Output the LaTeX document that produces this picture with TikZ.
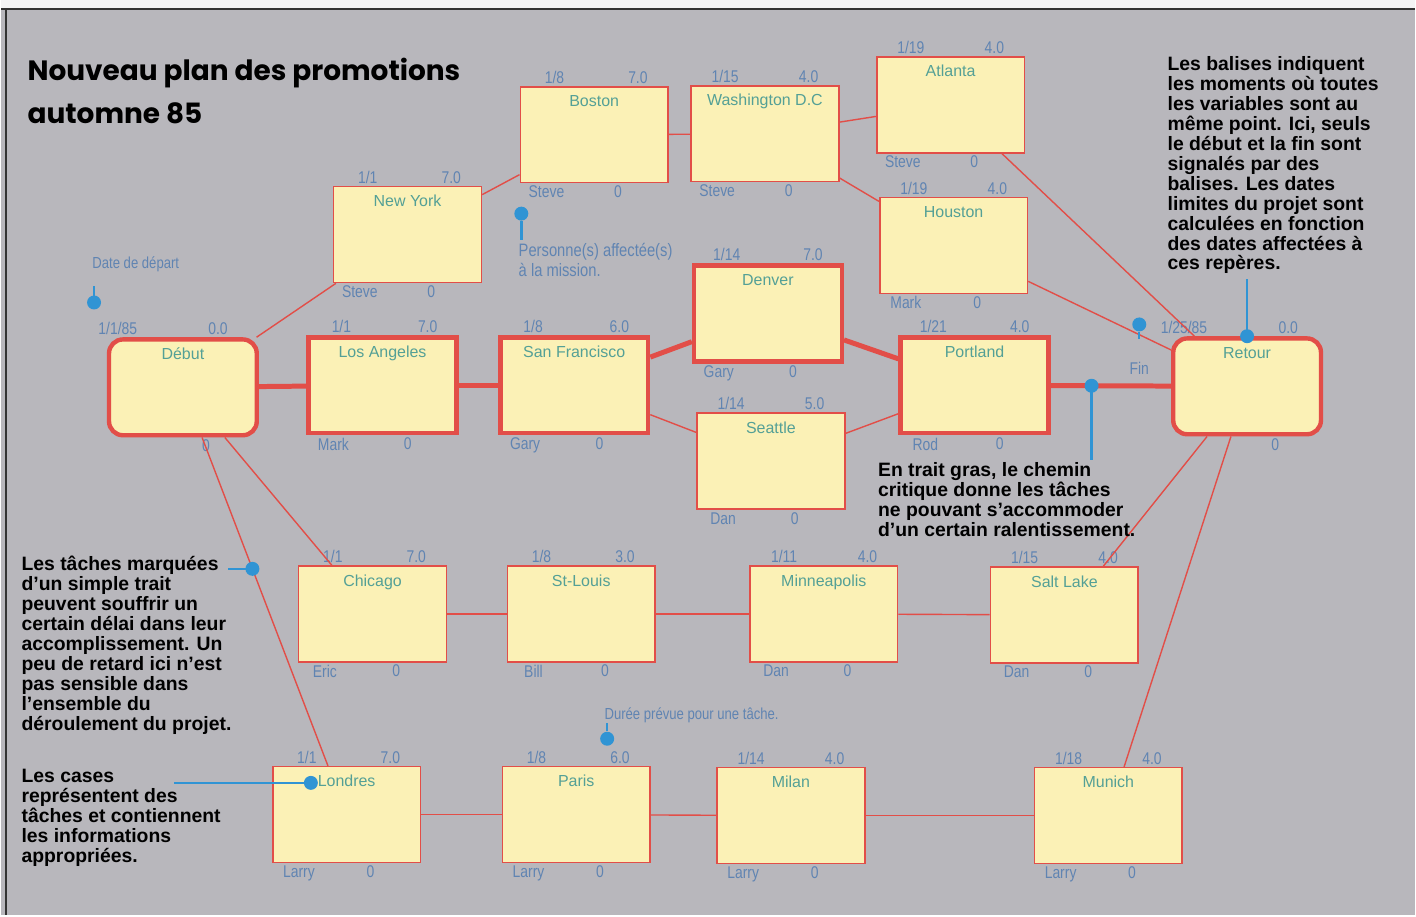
\documentclass[tikz,border=0pt]{standalone}
\usepackage{fontspec}
\setmainfont{Liberation Sans}
\newfontfamily\condfont[FakeStretch=0.82]{Liberation Sans}
\newfontfamily\titlefont{Poppins}
\usetikzlibrary{calc}

\definecolor{bggray}{RGB}{184,183,188}
\definecolor{boxfill}{RGB}{251,241,182}
\definecolor{boxred}{RGB}{226,78,72}
\definecolor{citygreen}{RGB}{84,160,150}
\definecolor{numblue}{RGB}{96,132,178}
\definecolor{pinblue}{RGB}{48,148,212}

\begin{document}
\begin{tikzpicture}[x=0.5pt,y=-0.5pt,
    task/.style={draw=boxred,fill=boxfill,line width=0.8pt,minimum width=74pt,minimum height=48pt,
      inner sep=3pt,text height=7pt,text depth=35pt,font=\fontsize{8}{9}\selectfont,text=citygreen},
    crit/.style={task,line width=2.2pt},
    endpt/.style={crit,rounded corners=7pt},
    num/.style={font=\condfont\fontsize{8.5}{9}\selectfont,text=numblue,inner sep=1pt},
    info/.style n args={4}{label={[num,anchor=south,xshift=17.5pt]north west:#1},
      label={[num,anchor=south,xshift=-15.5pt]north east:#2},
      label={[num,anchor=north,xshift=13.5pt]south west:#3},
      label={[num,anchor=north,xshift=-25.5pt]south east:#4}},
    link/.style={draw=boxred,line width=0.7pt},
    critlink/.style={draw=boxred,line width=2.5pt},
    pinline/.style={draw=pinblue,line width=1.2pt},
    pinhead/.style={circle,fill=pinblue,inner sep=0pt,minimum size=7pt},
    hint/.style={font=\condfont\fontsize{8}{9}\selectfont,text=numblue,inner sep=0pt},
    note/.style={font=\bfseries\fontsize{9.7}{10}\selectfont,align=left,inner sep=0pt,anchor=north west}]

  % page
  \fill[bggray] (0,0) rectangle (1416,917);
  \fill[white!85!bggray] (0,0) rectangle (1416,8);
  \draw[black!80,line width=1.2pt] (0,9) -- (1416,9) (5,9) -- (5,917);

  \node[font=\titlefont\bfseries\fontsize{14}{21.5}\selectfont,align=left,inner sep=0pt,anchor=north west] (title) at (26,58) {Nouveau plan des promotions\\automne 85};

  % start and end
  \node[endpt,label={[num,anchor=south,xshift=5.5pt]north west:1/1/85},label={[num,anchor=south,xshift=-20.5pt]north east:0.0},
    label={[num,anchor=north,xshift=-26.5pt]south east:0}] (deb) at (182,388) {Début};
  \node[endpt,label={[num,anchor=south,xshift=6.5pt]north west:1/25/85},label={[num,anchor=south,xshift=-17.5pt]north east:0.0},
    label={[num,anchor=north,xshift=-24pt]south east:0}] (ret) at (1248,387) {Retour};

  % tasks
  \node[task,info={1/1}{7.0}{Steve}{0}] (ny) at (407,235) {New York};
  \node[task,info={1/8}{7.0}{Steve}{0}] (bos) at (594,135) {Boston};
  \node[task,info={1/15}{4.0}{Steve}{0}] (was) at (765,134) {Washington D.C};
  \node[task,info={1/19}{4.0}{Steve}{0}] (atl) at (951,105) {Atlanta};
  \node[task,info={1/19}{4.0}{Mark}{0}] (hou) at (954,246) {Houston};
  \node[crit,info={1/1}{7.0}{Mark}{0}] (la) at (382,386) {Los Angeles};
  \node[crit,info={1/8}{6.0}{Gary}{0}] (sf) at (574,386) {San Francisco};
  \node[crit,info={1/14}{7.0}{Gary}{0}] (den) at (768,314) {Denver};
  \node[task,info={1/14}{5.0}{Dan}{0}] (sea) at (771,462) {Seattle};
  \node[crit,info={1/21}{4.0}{Rod}{0}] (por) at (975,386) {Portland};
  \node[task,info={1/1}{7.0}{Eric}{0}] (chi) at (372,615) {Chicago};
  \node[task,info={1/8}{3.0}{Bill}{0}] (stl) at (581,615) {St-Louis};
  \node[task,info={1/11}{4.0}{Dan}{0}] (min) at (824,615) {Minneapolis};
  \node[task,info={1/15}{4.0}{Dan}{0}] (slc) at (1065,616) {Salt Lake};
  \node[task,info={1/1}{7.0}{Larry}{0}] (lon) at (346,816) {Londres};
  \node[task,info={1/8}{6.0}{Larry}{0}] (par) at (576,816) {Paris};
  \node[task,info={1/14}{4.0}{Larry}{0}] (mil) at (791,817) {Milan};
  \node[task,info={1/18}{4.0}{Larry}{0}] (mun) at (1109,817) {Munich};

  % links
  \draw[link] (deb) -- (ny);
  \draw[link] (ny) -- (bos);
  \draw[link] (bos) -- (was);
  \draw[link] (was) -- (atl);
  \draw[link] (was) -- (hou);
  \draw[link] (atl) -- (ret);
  \draw[link] (hou) -- (ret);
  \draw[link] (sf) -- (sea);
  \draw[link] (sea) -- (por);
  \draw[link] (deb) -- (chi);
  \draw[link] (chi) -- (stl);
  \draw[link] (stl) -- (min);
  \draw[link] (min) -- (slc);
  \draw[link] (slc) -- (ret);
  \draw[link] (deb) -- coordinate[pos=0.4] (slackpin) (lon);
  \draw[link] (lon) -- (par);
  \draw[link] (par) -- (mil);
  \draw[link] (mil) -- (mun);
  \draw[link] (mun) -- (ret);
  \draw[critlink] (deb) -- (la);
  \draw[critlink] (la) -- (sf);
  \draw[critlink] (sf) -- (den);
  \draw[critlink] (den) -- (por);
  \draw[critlink] (por) -- coordinate[pos=0.34] (critpin) (ret);

  % pins
  \node[hint,anchor=west] (datetxt) at (91,265) {Date de départ};
  \coordinate (datepin) at (93,303);
  \draw[pinline] (datepin) -- ++(0,-17);
  \node[pinhead] at (datepin) {};
  \node[pinhead] (perspin) at (521,214) {};
  \draw[pinline] (perspin) -- ++(0,26);
  \node[hint,anchor=north west,align=left,font=\condfont\fontsize{9}{10}\selectfont] (perstxt) at (518,243) {Personne(s) affectée(s)\\à la mission.};
  \node[hint,anchor=west] (dureetxt) at (604,716) {Durée prévue pour une tâche.};
  \node[pinhead] (dureepin) at (607,740) {};
  \draw[pinline] (dureepin) -- ++(0,-16);
  \node[pinhead] (finpin) at (1140,325) {};
  \draw[pinline] (finpin) -- ++(0,15);
  \node[num] (fintxt) at (1140,369) {Fin};
  \draw[pinline] (ret.north) -- ++(0,-57);
  \node[pinhead] at (ret.north) {};
  \draw[pinline] (critpin) -- ++(0,74);
  \node[pinhead] at (critpin) {};
  \draw[pinline] (slackpin) -- ++(-24,0);
  \node[pinhead] at (slackpin) {};
  \coordinate (casepin) at ($(lon.north west)+(39,17)$);
  \draw[pinline] (casepin) -- ++(-137,0);
  \node[pinhead] at (casepin) {};

  % notes
  \node[note] (balises) at (1168,56) {Les balises indiquent\\les moments où toutes\\les variables sont au\\même point. Ici, seuls\\le début et la fin sont\\signalés par des\\balises. Les dates\\limites du projet sont\\calculées en fonction\\des dates affectées à\\ces repères.};
  \node[note] (gras) at (878,463) {En trait gras, le chemin\\critique donne les tâches\\ne pouvant s'accommoder\\d'un certain ralentissement.};
  \node[note] (simple) at (20,557) {Les tâches marquées\\d'un simple trait\\peuvent souffrir un\\certain délai dans leur\\accomplissement. Un\\peu de retard ici n'est\\pas sensible dans\\l'ensemble du\\déroulement du projet.};
  \node[note] (cases) at (20,770) {Les cases\\représentent des\\tâches et contiennent\\les informations\\appropriées.};
\end{tikzpicture}
\end{document}
